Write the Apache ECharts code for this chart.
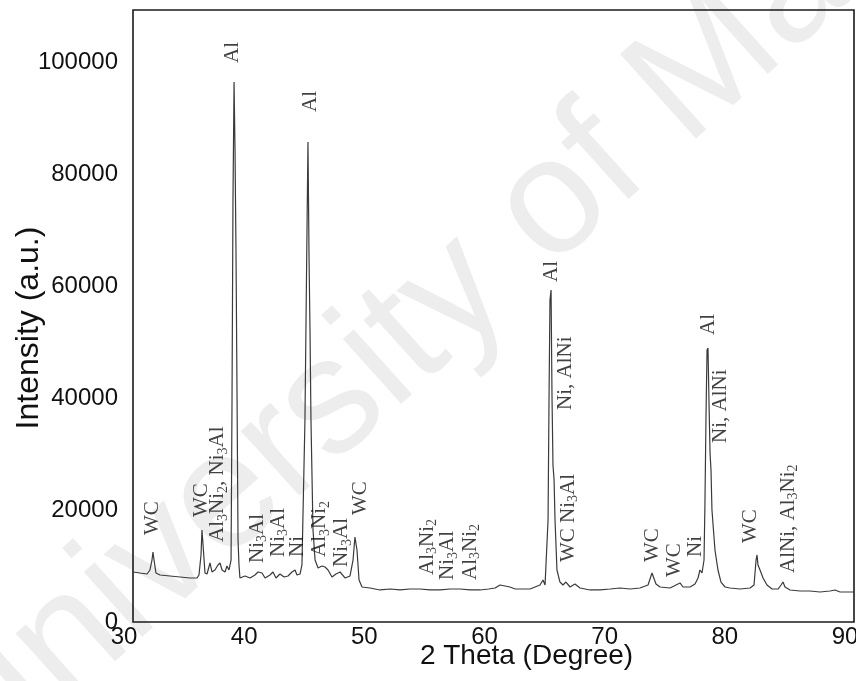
<!DOCTYPE html>
<html>
<head>
<meta charset="utf-8">
<script src="https://cdn.jsdelivr.net/npm/echarts@6/dist/echarts.min.js"></script>
<style>
  html, body { margin: 0; padding: 0; background: #ffffff; }
  #chart { width: 856px; height: 681px; }
</style>
</head>
<body>
<div id="chart"></div>
<script>
// XRD pattern: 2θ (degree) and measured intensity (a.u.)
const twoTheta = [
  30.00, 30.58, 31.17, 31.41, 31.58, 31.66, 31.75, 31.91, 32.25, 33.08, 33.91, 34.74,
  35.33, 35.49, 35.66, 35.74, 35.83, 35.99, 36.16, 36.41, 36.57, 36.82, 37.07, 37.24,
  37.41, 37.66, 37.82, 37.99, 38.16, 38.24, 38.32, 38.41, 38.49, 38.57, 38.66, 38.74,
  38.82, 38.90, 39.32, 39.74, 40.15, 40.40, 40.74, 40.99, 41.40, 41.65, 41.90, 42.23,
  42.57, 42.90, 43.23, 43.48, 43.65, 43.90, 44.06, 44.31, 44.48, 44.56, 44.65, 44.73,
  44.81, 44.98, 45.15, 45.40, 45.73, 45.98, 46.23, 46.56, 46.89, 47.23, 47.64, 48.06,
  48.31, 48.47, 48.64, 48.81, 49.06, 49.72, 50.56, 51.40, 52.22, 53.05, 53.88, 54.70,
  55.55, 56.40, 57.21, 58.05, 58.88, 59.60, 60.13, 60.54, 60.96, 61.37, 61.80, 62.21,
  63.04, 63.87, 64.12, 64.29, 64.54, 64.62, 64.70, 64.79, 64.87, 64.95, 65.04, 65.12,
  65.28, 65.53, 65.78, 66.03, 66.37, 66.78, 67.20, 68.03, 68.86, 69.70, 70.53, 71.36,
  72.19, 72.86, 73.19, 73.52, 73.86, 74.69, 75.52, 75.77, 76.35, 76.77, 77.02, 77.18,
  77.35, 77.52, 77.60, 77.68, 77.77, 77.85, 77.93, 78.02, 78.10, 78.18, 78.43, 78.68,
  78.93, 79.27, 79.68, 80.51, 81.35, 81.68, 81.85, 81.93, 82.01, 82.18, 82.43, 82.76,
  83.18, 83.68, 83.93, 84.09, 84.26, 84.68, 85.51, 86.34, 87.17, 88.00, 88.42, 88.84,
  89.40, 90.00
];
const intensity = [
  8930, 8750, 8570, 9290, 11070, 12500, 11070, 8750, 8390, 8220, 8040, 7860,
  7860, 8390, 11970, 16430, 13750, 8750, 8570, 10540, 8930, 9290, 10180, 10540,
  9290, 8930, 10000, 9290, 11070, 39650, 75370, 96440, 84300, 66440, 39650, 14650,
  10180, 7860, 8220, 7860, 8390, 8930, 8750, 7860, 8390, 8930, 7860, 8570,
  8040, 8220, 8930, 9290, 8390, 8570, 10180, 36080, 70010, 85730, 65000, 52150,
  36080, 16430, 11070, 9640, 10000, 9820, 9290, 8040, 8570, 8930, 7860, 8220,
  11070, 15180, 12860, 7500, 6250, 6070, 5720, 5890, 5720, 5890, 5890, 5720,
  5720, 5890, 5890, 5720, 5720, 5890, 6070, 6610, 6430, 6250, 5890, 5890,
  5890, 6610, 7500, 6610, 18220, 39650, 57510, 59300, 40000, 28000, 25400, 18220,
  9290, 7140, 6610, 7140, 6250, 6790, 6070, 5720, 5720, 5890, 6070, 5890,
  6070, 6610, 8750, 6790, 6250, 6070, 6970, 6250, 6250, 6790, 7860, 9290,
  8750, 11070, 21790, 36080, 48580, 48940, 39650, 30180, 27150, 20000, 12860, 9290,
  7140, 6250, 6070, 5890, 6070, 6610, 11070, 11970, 10180, 9290, 7860, 6610,
  5890, 5890, 6610, 7140, 6250, 5720, 5540, 5540, 5360, 5540, 5720, 5360,
  5360, 5360
];

// Phase identification labels: 2θ, intensity where the label starts, text ("_n" = subscript)
const peakTheta = [
  31.66, 35.74, 37.07, 38.32, 40.32, 42.07, 43.65, 44.73, 45.56, 47.39, 48.89, 54.47,
  56.21, 58.05, 64.79, 66.03, 66.20, 73.27, 75.10, 76.77, 77.85, 78.85, 81.35, 84.51
];
const peakLabelAt = [
  15540, 18750, 14290, 99840, 10540, 11610, 11610, 91090, 11610, 9820, 19110, 8390,
  7500, 7500, 60720, 37860, 10720, 10720, 8040, 11610, 51260, 31970, 14110, 8750
];
const peakPhase = [
  'WC', 'WC', 'Al_3Ni_2, Ni_3Al', 'Al', 'Ni_3Al', 'Ni_3Al', 'Ni', 'Al', 'Al_3Ni_2', 'Ni_3Al', 'WC', 'Al_3Ni_2',
  'Ni_3Al', 'Al_3Ni_2', 'Al', 'Ni, AlNi', 'WC Ni_3Al', 'WC', 'WC', 'Ni', 'Al', 'Ni, AlNi', 'WC', 'AlNi, Al_3Ni_2'
];

// Axis tick values
const xTicks = [30, 40, 50, 60, 70, 80, 90];
const yTicks = [0, 20000, 40000, 60000, 80000, 100000];

const sans = "'Liberation Sans', Arial, sans-serif";
const serif = "'Liberation Serif', 'Times New Roman', serif";

const pattern = twoTheta.map((t, i) => [t, intensity[i]]);
const labels = peakTheta.map((t, i) => [t, peakLabelAt[i], peakPhase[i]]);

// "_n" marks a subscript digit; turn it into a rich-text token
const toRich = s => s.replace(/_(\d)/g, '{sub|$1}');

const chart = echarts.init(document.getElementById('chart'), null, { renderer: 'canvas' });

chart.setOption({
  backgroundColor: '#ffffff',
  animation: false,
  graphic: [{
    type: 'text',
    z: -10,
    silent: true,
    x: 2,
    y: 813,
    rotation: 42 * Math.PI / 180,
    style: {
      text: 'University of Malaya',
      font: '165px "Liberation Sans", Arial, sans-serif',
      fill: '#ededed',
      textAlign: 'left',
      textVerticalAlign: 'bottom'
    }
  }],
  grid: {
    left: 133, right: 2, top: 10, bottom: 59,
    outerBoundsMode: 'none',
    containLabel: false,
    show: true, borderColor: '#1a1a1a', borderWidth: 1.6,
    backgroundColor: 'transparent'
  },
  xAxis: {
    type: 'value',
    min: 30, max: 90,
    name: '2 Theta (Degree)',
    nameLocation: 'middle',
    nameGap: 20,
    nameMoveOverlap: false,
    nameTextStyle: { fontFamily: sans, fontSize: 28, color: '#111', padding: [0, 0, 0, 66] },
    axisLine: { show: false },
    axisTick: { show: false },
    splitLine: { show: false },
    axisLabel: {
      customValues: xTicks,
      formatter: v => String(v),
      fontFamily: sans, fontSize: 24, color: '#111',
      margin: 3,
      padding: [0, 18, 0, 0]
    }
  },
  yAxis: {
    type: 'value',
    min: 0, max: 109300,
    name: 'Intensity (a.u.)',
    nameLocation: 'middle',
    nameGap: 88,
    nameMoveOverlap: false,
    nameTextStyle: { fontFamily: sans, fontSize: 32, color: '#111', padding: [0, 24, 0, 0] },
    axisLine: { show: false },
    axisTick: { show: false },
    splitLine: { show: false },
    axisLabel: {
      customValues: yTicks,
      formatter: v => String(v),
      fontFamily: sans, fontSize: 24, color: '#111',
      margin: 15
    }
  },
  series: [
    {
      type: 'line',
      data: pattern,
      showSymbol: false,
      symbol: 'none',
      smooth: false,
      silent: true,
      lineStyle: { color: '#3a3a3a', width: 1.2 },
      z: 3
    },
    {
      type: 'scatter',
      data: labels,
      symbolSize: 0,
      silent: true,
      z: 4,
      label: {
        show: true,
        position: 'inside',
        rotate: 90,
        align: 'left',
        verticalAlign: 'middle',
        formatter: p => toRich(p.data[2]),
        fontFamily: serif,
        fontSize: 21,
        lineHeight: 24,
        color: '#111',
        rich: {
          sub: { fontFamily: serif, fontSize: 14, lineHeight: 14, verticalAlign: 'bottom', color: '#111' }
        }
      },
      labelLayout: { hideOverlap: false }
    }
  ]
});
</script>
</body>
</html>
